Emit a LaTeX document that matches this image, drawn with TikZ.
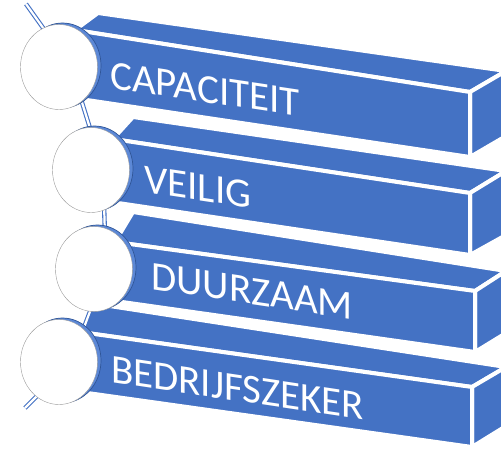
\documentclass[tikz,border=0pt]{standalone}
\usepackage{fontspec}
\usepackage{tikz}
\usetikzlibrary{shapes.geometric}
\newfontfamily\barfont{Carlito}
\definecolor{barblue}{HTML}{4472C4}
\definecolor{rimblue}{HTML}{5C88D6}
\definecolor{rimdark}{HTML}{2F5597}

\begin{document}
\begin{tikzpicture}[x=1pt,y=-1pt]
  \tikzstyle{face}=[fill=barblue, draw=white, line width=4pt, line join=round]
  \tikzstyle{disc}=[ellipse, draw=gray!80, thin, fill=white, minimum width=77pt,
minimum height=85pt, inner sep=0pt]
  \tikzstyle{rim}=[fill=rimblue, draw=rimdark, line width=0.7pt]
  \tikzstyle{rod}=[draw=barblue, line width=1.1pt, double=white, double distance=2.2pt]
  \tikzstyle{bartext}=[text=white, font=\barfont\fontsize{41}{41}\selectfont,
anchor=base west, inner sep=0pt, yslant=-0.15, transform shape]
  \clip (0,0) rectangle (501,452);

  % bar 1
  \draw[face] (75,30) -- (98,13) -- (506,71) -- (470,92) -- cycle;
  \draw[face] (470,92) -- (506,71) -- (506,136) -- (470,157) -- cycle;
  \draw[face] (75,30) -- (470,92) -- (470,157) -- (60,96) -- cycle;
  % bar 2
  \draw[face] (113,139) -- (133,117) -- (506,171) -- (470,193) -- cycle;
  \draw[face] (470,193) -- (506,171) -- (506,235) -- (470,255) -- cycle;
  \draw[face] (113,139) -- (470,193) -- (470,255) -- (91,199) -- cycle;
  % bar 3
  \draw[face] (115,242) -- (133,212) -- (506,271) -- (475,291) -- cycle;
  \draw[face] (475,291) -- (506,271) -- (506,333) -- (475,352) -- cycle;
  \draw[face] (115,242) -- (475,291) -- (475,352) -- (94,298) -- cycle;
  % bar 4
  \draw[face] (80,332) -- (90,303) -- (506,367) -- (472,387) -- cycle;
  \draw[face] (472,387) -- (506,367) -- (506,426) -- (472,447) -- cycle;
  \draw[face] (80,332) -- (472,387) -- (472,447) -- (59,389) -- cycle;

  \node[bartext] (T_1) at (110,88)  {CAPACITEIT};
  \node[bartext] (T_2) at (144,192) {VEILIG};
  \node[bartext] (T_3) at (151,289) {DUURZAAM};
  \node[bartext] (T_4) at (111,382) {BEDRIJFSZEKER};

  \coordinate (K_0) at (26,4);
  \coordinate (K_5) at (25,408);
  \path (59,67) coordinate (P_1) (91,170) coordinate (P_2)
        (94,269) coordinate (P_3) (59,362) coordinate (P_4);

  \draw[rod] (K_0) -- ([xshift=12pt]P_1) -- ([xshift=12pt]P_2)
    -- ([xshift=12pt]P_3) -- ([xshift=12pt]P_4) -- (K_5);

  % blue edge of the discs
  \filldraw[rim] ([xshift=3.5pt,yshift=1.5pt]P_1) ellipse [x radius=38.5, y radius=42.5];
  \filldraw[rim] ([xshift=3.5pt,yshift=1.5pt]P_2) ellipse [x radius=38.5, y radius=42.5];
  \filldraw[rim] ([xshift=3.5pt,yshift=1.5pt]P_3) ellipse [x radius=38.5, y radius=42.5];
  \filldraw[rim] ([xshift=3.5pt,yshift=1.5pt]P_4) ellipse [x radius=38.5, y radius=42.5];

  \node[disc] (D_1) at (P_1) {};
  \node[disc] (D_2) at (P_2) {};
  \node[disc] (D_3) at (P_3) {};
  \node[disc] (D_4) at (P_4) {};
\end{tikzpicture}
\end{document}
